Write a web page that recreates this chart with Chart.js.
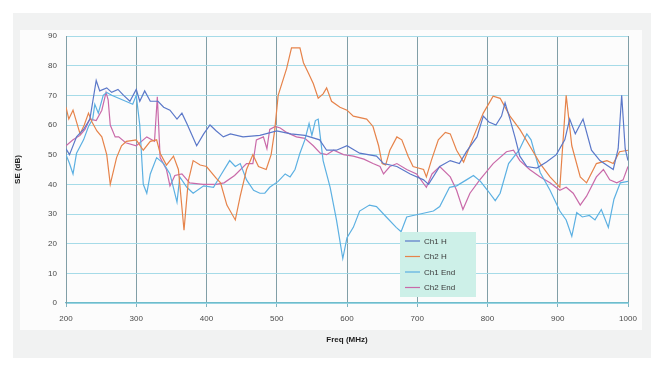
<!DOCTYPE html>
<html>
<head>
<meta charset="utf-8">
<script src="https://cdn.jsdelivr.net/npm/chart.js@4.4.1/dist/chart.umd.min.js"></script>
<style>
  html, body { margin: 0; padding: 0; background: #ffffff; }
  #wrap { position: relative; width: 657px; height: 365px; }
  canvas { display: block; }
</style>
</head>
<body>
<div id="wrap"><canvas id="c" width="657" height="365"></canvas></div>
<script>
// Shielding effectiveness vs frequency, four measurement runs
const seriesNames = ["Ch1 H", "Ch2 H", "Ch1 End", "Ch2 End"];

const ch1HFreq = [200,205,215,225,234,243,248,258,265,274,282,291,300,305,312,320,331,339,348,358,365,372,386,396,405,414,424,434,452,476,500,520,540,561,571,585,600,618,642,652,671,690,709,716,732,747,760,770,785,794,802,812,820,825,832,839,846,856,870,884,898,910,917,925,936,948,960,979,986,991,996,1000];
const ch1HSE   = [52,50,56,58.5,62,75,71.5,72.5,71,72,70,68,72,68,71.5,68,68,66,65,62,64,60.5,53,57,60,58,56,57,56,56.5,58,57,56.5,55,51.5,51.5,53,50.5,49.5,47,46,43.5,41.5,40,46,48,47,51,56,63,61,60,63,67.5,62,56,49.5,46,45.5,47.5,50,55,62,57,62,51.5,48,45,52,70,52,48];

const ch2HFreq = [200,204,210,220,226,232,237,244,251,258,263,272,279,286,300,310,320,329,334,343,353,360,368,374,381,391,400,414,420,429,441,448,457,466,474,485,492,497,502,514,521,533,538,545,552,559,566,571,578,590,600,609,628,637,645,650,655,661,671,678,687,694,709,713,720,730,740,747,756,766,780,794,808,818,832,846,860,875,889,903,912,920,932,941,955,970,979,988,1000];
const ch2HSE   = [66,62,65,57,60,64,61,58,56,50,40,49,53,54.5,55,51.5,54.5,55,50.5,46.5,49.5,45,24.5,41,48,46.5,46,42,40.5,33,28,36,45,50,46,45,50,58,70,79,86,86,81,77.5,74,69,70.5,72.5,68,66,65,63,62,59.5,53,47,46.5,51.5,56,55,49.5,46,45,42.5,48,55,57.5,57,51.5,47.5,56,64,69.7,69,63,58.5,53,47,42.5,39,70,53,42.5,40.5,47,48,47,51,51.5];

const ch1EndFreq = [200,205,210,215,225,232,238,241,246,253,258,265,275,285,295,300,305,310,315,320,329,339,348,358,362,372,381,396,410,420,433,441,448,457,467,476,483,490,502,512,519,526,533,540,546,550,555,559,562,566,576,585,594,600,609,618,632,642,656,670,677,685,694,704,723,732,746,756,770,780,790,800,811,818,830,845,856,862,875,889,903,912,920,927,935,945,953,962,972,980,989,1000];
const ch1EndSE   = [50,47,43.5,50.5,55,59.5,62,67,64,70,71,70,69,68,67,70,60,40,37,43.5,49,47,43.5,34,42.5,39,37,39.5,39,43,48,46,47,41.5,38,37,37,39,41,43.5,42.5,45,50.5,55,60.5,56.5,61.5,62,56,48,39,28,15,22,25.5,31,33,32.5,29,25.5,24,29,29.5,30,31,32.5,39,39.5,41.5,43,41,38,34.5,37,47,51.5,57,55,44,38,31,28,22.5,30.5,29,29.5,28,31.5,25.5,35,40.5,41];

const ch2EndFreq = [200,210,220,227,234,243,251,257,260,263,270,275,285,300,315,326,330,334,343,348,355,365,376,395,414,425,440,457,466,471,481,486,490,498,505,514,528,540,552,562,571,581,595,609,624,637,647,652,661,671,685,699,713,721,732,747,756,765,775,789,808,827,837,846,860,875,889,903,912,922,932,941,955,965,974,984,993,1000];
const ch2EndSE   = [53,55,56.5,58.5,62,61.5,65,71,68.5,60,56,56,54,53,56,54.5,69.5,49,45,39.5,43,43.5,40.5,40,40,40.5,43,47,47,55,56,52,58.5,59.5,59,57.5,56,55.5,53,50.5,50,51.5,50,49.5,48.5,47,46,43.5,46,47,45,43.5,39,43.5,46,42.5,38,31.5,37,41.5,47,51,51.5,48,45,42.5,40.5,38,39,37,33,36,42.5,45,41.5,40.5,41.5,46];

const seriesColors = ["#5b78c9", "#e6834a", "#5cb0e2", "#c96aa9"];

const freqTicks = [200, 300, 400, 500, 600, 700, 800, 900, 1000];
const seTicks = [0, 10, 20, 30, 40, 50, 60, 70, 80, 90];

function pairs(fs, vs) { return fs.map((f, i) => ({ x: f, y: vs[i] })); }

const datasets = [
  [ch1HFreq, ch1HSE], [ch2HFreq, ch2HSE], [ch1EndFreq, ch1EndSE], [ch2EndFreq, ch2EndSE]
].map(([fs, vs], i) => ({
  label: seriesNames[i],
  data: pairs(fs, vs),
  borderColor: seriesColors[i],
  backgroundColor: seriesColors[i],
  borderWidth: 1.2,
  pointRadius: 0,
  tension: 0,
  fill: false
}));

// page tint behind the chart and a lighter panel for the plot
const backdrop = {
  id: 'backdrop',
  beforeDraw(chart) {
    const ctx = chart.ctx;
    ctx.save();
    ctx.fillStyle = '#ffffff';
    ctx.fillRect(0, 0, chart.width, chart.height);
    ctx.fillStyle = '#f1f2f2';
    ctx.fillRect(13, 13, 638, 345);
    ctx.fillStyle = '#fcfcfc';
    ctx.fillRect(20, 30, 622, 300);
    ctx.restore();
  }
};

// legend box drawn inside the plot area
const insetLegend = {
  id: 'insetLegend',
  afterDatasetsDraw(chart) {
    const ctx = chart.ctx;
    const x0 = 400, y0 = 232, w = 76, h = 65;
    ctx.save();
    ctx.fillStyle = '#cdf0e8';
    ctx.fillRect(x0, y0, w, h);
    ctx.font = '8px "Liberation Sans", Arial, sans-serif';
    ctx.textBaseline = 'middle';
    chart.data.datasets.forEach((ds, i) => {
      const y = y0 + 9 + i * 15.5;
      ctx.strokeStyle = ds.borderColor;
      ctx.lineWidth = 1.2;
      ctx.beginPath();
      ctx.moveTo(x0 + 5, y);
      ctx.lineTo(x0 + 20, y);
      ctx.stroke();
      ctx.fillStyle = '#3a3a3a';
      ctx.fillText(ds.label, x0 + 24, y + 0.5);
    });
    ctx.restore();
  }
};

const tickFont = { family: '"Liberation Sans", Arial, sans-serif', size: 8 };

new Chart(document.getElementById('c'), {
  type: 'line',
  data: { datasets },
  plugins: [backdrop, insetLegend],
  options: {
    responsive: false,
    animation: false,
    layout: { padding: { left: 0, right: 29, top: 36, bottom: 0 } },
    plugins: { legend: { display: false }, tooltip: { enabled: false } },
    scales: {
      x: {
        type: 'linear',
        min: 200, max: 1000,
        afterBuildTicks(scale) { scale.ticks = freqTicks.map(v => ({ value: v })); },
        afterFit(scale) { scale.height = 62; },
        grid: { color: '#819fa7', lineWidth: 1, tickLength: 4, tickColor: '#7fb4c0' },
        border: { color: '#6ebccb', width: 1.2 },
        ticks: { color: '#4a4a4a', font: tickFont, padding: 7, maxRotation: 0, callback: v => String(v) },
        title: { display: true, text: 'Freq (MHz)', color: '#202020', font: { family: tickFont.family, size: 8, weight: 'bold' }, padding: { top: 0, bottom: 20 } }
      },
      y: {
        type: 'linear',
        min: 0, max: 90,
        afterBuildTicks(scale) { scale.ticks = seTicks.map(v => ({ value: v })); },
        afterFit(scale) { scale.width = 66; },
        grid: { color: '#a6dbe8', lineWidth: 1, drawTicks: false },
        border: { color: '#819fa7', width: 1 },
        ticks: { color: '#4a4a4a', font: tickFont, padding: 9, callback: v => String(v) },
        title: { display: true, text: 'SE (dB)', color: '#202020', font: { family: tickFont.family, size: 8, weight: 'bold' }, padding: { top: 13, bottom: 0 } }
      }
    }
  }
});
</script>
</body>
</html>
